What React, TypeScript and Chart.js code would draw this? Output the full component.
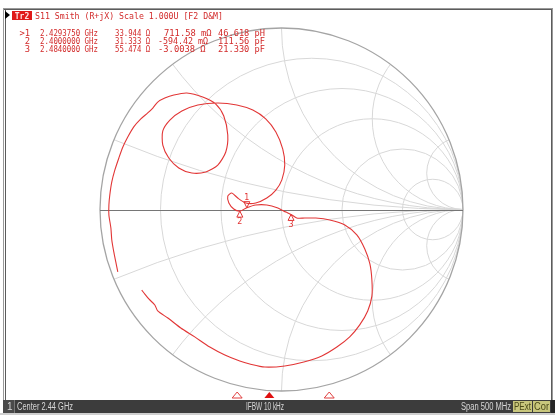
import React, { useEffect, useRef } from "react";
import { Chart, registerables } from "chart.js";

Chart.register(...registerables);

// ---------- stimulus / channel settings ----------
const centerGHz = 2.44;
const spanMHz = 500;
const ifbwKHz = 10;
const z0 = 50;

// ---------- Smith grid ----------
const gridResistance = [0.2, 0.5, 1, 2, 5];
const gridReactance = [0.2, 0.5, 1, 2, 5];

// ---------- S11 trace (reflection coefficient, real / imaginary) ----------
const traceRe = [
  -0.902, -0.913, -0.924, -0.935, -0.94, -0.951, -0.951, -0.946, -0.935, -0.918,
  -0.896, -0.874, -0.847, -0.814, -0.775, -0.737, -0.709, -0.682, -0.643, -0.593,
  -0.522, -0.434, -0.362, -0.318, -0.296, -0.307, -0.351, -0.417, -0.494, -0.566,
  -0.621, -0.654, -0.654, -0.615, -0.549, -0.461, -0.351, -0.246, -0.158, -0.087,
  -0.031, 0.007, 0.018, 0.002, -0.031, -0.081, -0.142, -0.197, -0.241, -0.274,
  -0.296, -0.29, -0.263, -0.2295, -0.191, -0.142, -0.081, -0.02, 0.024, 0.0527,
  0.084, 0.128, 0.189, 0.266, 0.349, 0.415, 0.459, 0.487, 0.498, 0.498,
  0.475, 0.431, 0.376, 0.305, 0.222, 0.123, 0.018, -0.092, -0.175, -0.23,
  -0.312, -0.395, -0.478, -0.555, -0.626, -0.682, -0.698, -0.731, -0.753, -0.77,
];
const traceIm = [
  -0.344, -0.289, -0.234, -0.168, -0.102, -0.03, 0.025, 0.08, 0.152, 0.218,
  0.284, 0.344, 0.399, 0.455, 0.499, 0.532, 0.559, 0.592, 0.614, 0.631,
  0.642, 0.62, 0.581, 0.515, 0.41, 0.317, 0.245, 0.207, 0.201, 0.229,
  0.284, 0.355, 0.433, 0.493, 0.543, 0.576, 0.587, 0.576, 0.548, 0.499,
  0.427, 0.333, 0.245, 0.163, 0.107, 0.063, 0.036, 0.036, 0.063, 0.091,
  0.074, 0.036, 0.003, -0.009, 0.01, 0.025, 0.025, 0.008, -0.014, -0.027,
  -0.047, -0.047, -0.047, -0.058, -0.085, -0.14, -0.218, -0.3, -0.388, -0.477,
  -0.559, -0.636, -0.702, -0.758, -0.807, -0.84, -0.862, -0.868, -0.851, -0.835,
  -0.802, -0.758, -0.702, -0.653, -0.598, -0.559, -0.526, -0.493, -0.466, -0.444,
];

// ---------- markers ----------
const markerNames = ["1", "2", "3"];
const markerFreqGHz = [2.429375, 2.4, 2.484];
const markerResOhm = [33.944, 31.333, 55.474];
const markerReactOhm = [0.71158, -0.59442, -3.0038];
const markerReactText = ["711.58 m\u03a9", "-594.42 m\u03a9", "-3.0038 \u03a9"];
const markerEquivText = ["46.618 pH", "111.56 pF", "21.330 pF"];

const TITLE = "S11 Smith (R+jX) Scale 1.000U [F2 D&M]";

const TRACE_RED = "#e23636";
const TEXT_RED = "#d22a2a";

function gammaOf(r: number, x: number) {
  const zr = r / z0;
  const zi = x / z0;
  const nr = zr - 1;
  const ni = zi;
  const dr = zr + 1;
  const di = zi;
  const den = dr * dr + di * di;
  return { re: (nr * dr + ni * di) / den, im: (ni * dr - nr * di) / den };
}

const smithPlugin = {
  id: "smithFrame",
  beforeDraw(chart: any) {
    const ctx: CanvasRenderingContext2D = chart.ctx;
    const W = chart.width;
    const H = chart.height;
    const xs = chart.scales.x;
    const ys = chart.scales.y;
    const px = (v: number) => xs.getPixelForValue(v);
    const py = (v: number) => ys.getPixelForValue(v);
    const cx = px(0);
    const cy = py(0);
    const R = px(1) - px(0);

    ctx.save();
    ctx.fillStyle = "#ffffff";
    ctx.fillRect(0, 0, W, H);

    // window frame
    ctx.strokeStyle = "#9a9a9a";
    ctx.lineWidth = 1;
    ctx.strokeRect(3.5, 8.5, W - 6, 392);
    ctx.strokeStyle = "#5c5c5c";
    ctx.beginPath();
    ctx.moveTo(4, 9.5);
    ctx.lineTo(W - 3, 9.5);
    ctx.moveTo(5.5, 9);
    ctx.lineTo(5.5, 400);
    ctx.moveTo(W - 3.5, 9);
    ctx.lineTo(W - 3.5, 400);
    ctx.stroke();

    // grid (clipped to unit circle)
    ctx.save();
    ctx.beginPath();
    ctx.arc(cx, cy, R, 0, Math.PI * 2);
    ctx.clip();
    ctx.strokeStyle = "#d8d8d8";
    ctx.lineWidth = 1;
    gridResistance.forEach((r) => {
      ctx.beginPath();
      ctx.arc(px(r / (1 + r)), cy, R / (1 + r), 0, Math.PI * 2);
      ctx.stroke();
    });
    gridReactance.forEach((x) => {
      [1, -1].forEach((s) => {
        ctx.beginPath();
        ctx.arc(px(1), py(s / x), R / x, 0, Math.PI * 2);
        ctx.stroke();
      });
    });
    ctx.restore();

    // outer circle
    ctx.strokeStyle = "#a4a4a4";
    ctx.lineWidth = 1.3;
    ctx.beginPath();
    ctx.arc(cx, cy, R, 0, Math.PI * 2);
    ctx.stroke();

    // real axis
    ctx.strokeStyle = "#767676";
    ctx.lineWidth = 1;
    ctx.beginPath();
    const yy = Math.round(cy) + 0.5;
    ctx.moveTo(px(-1), yy);
    ctx.lineTo(px(1), yy);
    ctx.stroke();
    ctx.restore();
  },
  afterDatasetsDraw(chart: any) {
    const ctx: CanvasRenderingContext2D = chart.ctx;
    const W = chart.width;
    const xs = chart.scales.x;
    const ys = chart.scales.y;
    const px = (v: number) => xs.getPixelForValue(v);
    const py = (v: number) => ys.getPixelForValue(v);

    ctx.save();
    // ---- markers on trace ----
    ctx.strokeStyle = TRACE_RED;
    ctx.fillStyle = TRACE_RED;
    ctx.lineWidth = 1;
    ctx.font = '8px "DejaVu Sans"';
    ctx.textAlign = "center";
    markerNames.forEach((name, i) => {
      const g = gammaOf(markerResOhm[i], markerReactOhm[i]);
      const x = px(g.re);
      const y = py(g.im);
      ctx.beginPath();
      if (i === 0) {
        ctx.moveTo(x, y);
        ctx.lineTo(x - 3, y - 6);
        ctx.lineTo(x + 3, y - 6);
        ctx.closePath();
        ctx.stroke();
        ctx.textBaseline = "bottom";
        ctx.fillText(name, x, y - 6);
      } else {
        ctx.moveTo(x, y);
        ctx.lineTo(x - 3, y + 6);
        ctx.lineTo(x + 3, y + 6);
        ctx.closePath();
        ctx.stroke();
        ctx.textBaseline = "top";
        ctx.fillText(name, x, y + 7);
      }
    });

    // ---- header ----
    ctx.fillStyle = "#000";
    ctx.beginPath();
    ctx.moveTo(5, 11);
    ctx.lineTo(10, 15);
    ctx.lineTo(5, 19);
    ctx.closePath();
    ctx.fill();
    ctx.fillStyle = "#e01818";
    ctx.fillRect(12, 11, 20, 9);
    ctx.fillStyle = "#ffe0e0";
    ctx.font = 'bold 8px "DejaVu Sans Mono"';
    ctx.textAlign = "center";
    ctx.textBaseline = "alphabetic";
    ctx.fillText("Tr2", 22, 18.5, 18);

    ctx.fillStyle = TEXT_RED;
    ctx.textAlign = "left";
    ctx.font = '8.8px "DejaVu Sans Mono"';
    ctx.fillText(TITLE, 35, 18.5, 188);

    const rowBase = [36, 44, 52];
    markerNames.forEach((name, i) => {
      const b = rowBase[i];
      ctx.textAlign = "right";
      ctx.fillText(i === 0 ? ">" + name : name, 30, b);
      ctx.textAlign = "left";
      ctx.fillText(markerFreqGHz[i].toFixed(7) + " GHz", 40, b, 58);
      ctx.fillText(markerResOhm[i].toFixed(3) + " \u03a9", 115, b, 35);
      const xt = markerReactText[i];
      const xStart = xt.startsWith("-") ? 158 : 164;
      ctx.fillText(xt, xStart, b, 50);
      ctx.fillText(markerEquivText[i], 218, b, 47);
    });

    // ---- status bar ----
    const barTop = 400;
    ctx.fillStyle = "#3c3c3c";
    ctx.fillRect(3, barTop, W - 3, 13);
    ctx.fillStyle = "#cfcfcf";
    ctx.fillRect(0, barTop + 13, W, 2);
    ctx.fillStyle = "#4a4a4a";
    ctx.fillRect(3, barTop, 11, 13);
    ctx.strokeStyle = "#777";
    ctx.beginPath();
    ctx.moveTo(14.5, barTop);
    ctx.lineTo(14.5, barTop + 13);
    ctx.stroke();

    ctx.font = '10px "Liberation Sans"';
    ctx.fillStyle = "#d6d6d6";
    ctx.textBaseline = "alphabetic";
    ctx.textAlign = "left";
    const tb = barTop + 10;
    ctx.fillText("1", 7, tb);
    ctx.fillText("Center " + centerGHz + " GHz", 17, tb, 56);
    ctx.fillText("IFBW " + ifbwKHz + " kHz", 246, tb, 38);
    ctx.fillText("Span " + spanMHz + " MHz", 461, tb, 50);

    ctx.fillStyle = "#c8c67c";
    ctx.fillRect(513, barTop + 1, 19, 11);
    ctx.fillRect(533, barTop + 1, 17, 11);
    ctx.fillStyle = "#4b4a18";
    ctx.fillText("PExt", 514, tb, 17);
    ctx.fillText("Cor", 534, tb, 15);
    ctx.fillStyle = "#262626";
    ctx.fillRect(551, barTop, W - 551, 13);

    // ---- stimulus marker triangles ----
    const fStart = centerGHz - spanMHz / 2000;
    const spanG = spanMHz / 1000;
    const left = 7;
    const width = 548;
    markerFreqGHz.forEach((f, i) => {
      const x = left + ((f - fStart) / spanG) * width;
      ctx.beginPath();
      ctx.moveTo(x, 392);
      ctx.lineTo(x - 5, 398);
      ctx.lineTo(x + 5, 398);
      ctx.closePath();
      if (i === 0) {
        ctx.fillStyle = "#e01010";
        ctx.fill();
      } else {
        ctx.strokeStyle = "#e04040";
        ctx.lineWidth = 1;
        ctx.stroke();
      }
    });
    ctx.restore();
  },
};

export default function App() {
  const ref = useRef<HTMLCanvasElement | null>(null);

  useEffect(() => {
    document.body.style.margin = "0";
    const canvas = ref.current;
    if (!canvas) return;
    const points = traceRe.map((x, i) => ({ x, y: traceIm[i] }));
    const chart = new Chart(canvas, {
      type: "scatter",
      data: {
        datasets: [
          {
            data: points,
            showLine: true,
            borderColor: TRACE_RED,
            backgroundColor: TRACE_RED,
            borderWidth: 1.1,
            pointRadius: 0,
            tension: 0.25,
            fill: false,
          },
        ],
      },
      options: {
        responsive: false,
        animation: false,
        devicePixelRatio: 1,
        layout: { padding: { left: 100, right: 92, top: 28, bottom: 24 } },
        scales: {
          x: { type: "linear", min: -1, max: 1, display: false },
          y: { type: "linear", min: -1, max: 1, display: false },
        },
        plugins: {
          legend: { display: false },
          tooltip: { enabled: false },
        },
      },
      plugins: [smithPlugin],
    } as any);
    return () => chart.destroy();
  }, []);

  return (
    <canvas
      ref={ref}
      width={555}
      height={415}
      style={{ display: "block", width: 555, height: 415 }}
    />
  );
}
